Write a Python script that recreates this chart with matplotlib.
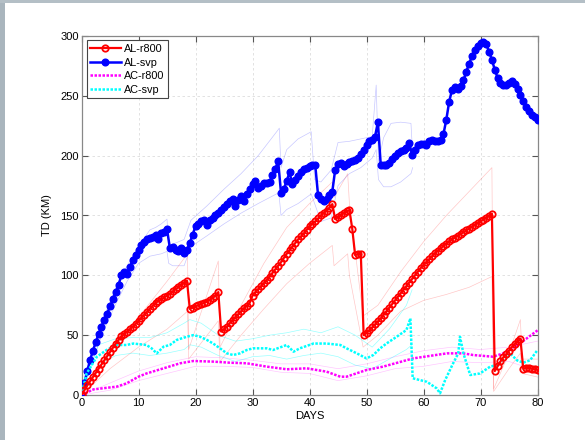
import matplotlib
matplotlib.use("Agg")
import matplotlib.pyplot as plt
from matplotlib.patches import Rectangle

# ---------------- data ----------------
days_half = [i * 0.5 for i in range(161)]

al_r800 = [0, 4, 8, 11.5, 15, 18.5, 22, 25.5, 29, 32.5,
           36, 39.5, 43, 46, 49, 51, 53, 55, 57, 59.5,
           62, 64.5, 67, 69.5, 72, 74.5, 77, 78.5, 80, 81.5,
           83, 84.5, 86.5, 88.5, 90, 92, 93.5, 95.5, 72, 73,
           74, 75, 76, 77, 78, 79.5, 81, 83, 86, 53,
           55, 57, 60, 62.5, 65, 67.5, 70, 72.5, 74.5, 77,
           83, 86, 88.5, 91, 93.5, 96, 99, 102, 105, 108,
           111, 114.5, 118, 121, 124, 127, 130, 132.5, 135, 138,
           141, 143, 145, 147.5, 150, 152, 154, 156.5, 159.5, 147,
           148.5, 150, 152, 153.5, 154.5, 139, 117, 117.5, 118, 50,
           52, 54, 56.5, 59, 61.5, 64, 67, 70, 73, 76,
           79, 82, 85, 88, 91, 94, 97, 100, 103, 106,
           108.5, 111, 113.5, 116, 118.5, 120.5, 122.5, 124.5, 126.5, 128.5,
           130, 131.5, 133, 134.5, 136, 137.5, 139, 140.5, 142, 143.5,
           145, 146.5, 148, 149.5, 151.5, 20, 24, 28, 31.5, 34,
           37, 40, 42.5, 45, 47, 22, 22.5, 22.5, 22, 21.5,
           21]

al_svp = [0, 10, 20, 29, 37, 44, 51, 57, 63, 68,
          74, 80, 86, 92, 100, 103, 101, 107, 113, 117,
          121, 125, 128, 130, 131, 132, 134, 130, 135, 136,
          138.5, 123, 124, 121, 120, 123, 119, 121, 127, 134,
          141, 143, 145, 146, 142, 146, 148, 150, 152, 155,
          157, 160, 162, 163.5, 158, 163, 166, 162, 168, 172,
          176, 179, 173, 175, 177, 177, 178, 184, 189, 195.5,
          169, 172, 179, 186, 176, 180, 183, 186, 189, 190,
          191, 192, 192.5, 167, 164, 162, 164, 167, 170, 188,
          193, 193.5, 191, 193, 195, 195.5, 196, 198, 201, 205,
          209, 212, 213, 216, 228, 192, 192, 192.5, 194, 197,
          200, 202.5, 204, 205, 206, 211, 200.5, 205, 209, 210,
          209.5, 209, 212, 213, 212, 212, 213, 218, 230, 245,
          255, 257, 256, 258, 263, 270, 277, 283, 288, 292,
          294.5, 295, 293, 287, 280, 272, 265, 261, 259, 259,
          261, 262, 260, 256, 251, 246, 241, 237, 234, 232,
          230]

ac_r800_x = [0, 2.1, 6.2, 7.9, 10, 11.4, 14.4, 17.3, 19.6, 23.1, 26, 29, 32.5, 36, 39.5, 43, 45.4, 46.5, 50, 52.9,
             58.2, 64.1, 67, 68.7, 72.2, 74, 76.9, 80]
ac_r800 = [0, 4.7, 7, 9.7, 15.3, 18, 22.3, 26.5, 28.4, 27.9, 27, 26.5, 23.7, 21.5, 22.3, 19.5, 15.3, 15.3, 20.9, 23.7,
           30.6, 34.8, 34.8, 33.4, 32, 34.8, 43, 54]

ac_svp_x = [0, 0.9, 2.7, 4.4, 6.2, 7.9, 9.1, 11.4, 12.3, 13.2, 14.4, 15.5, 16.7, 18.5, 19.6, 20.8, 22, 23.1, 24.3, 25.5,
            26.6, 27.8, 29, 30.1, 32.5, 33.6, 36, 37.2, 38.3, 40.7, 43, 45.4, 46.5, 48.3, 50, 51.2, 52.4, 53.5, 55.3, 57,
            57.7, 58.1, 60.6, 62.3, 62.9, 63.8, 65.2, 66.1, 66.4, 67, 68.2, 69.9, 71.7, 72.8, 74, 75.2, 76.4, 77.5, 78.7, 80]
ac_svp = [0, 18, 32, 37.6, 41.8, 41.8, 43, 41.8, 39, 34.8, 40.4, 41.8, 46, 48.7, 50, 48.7, 46, 43, 39, 34.8,
          33.4, 34.8, 37.6, 39, 39, 37.6, 41.8, 36.2, 39, 43, 43, 41.8, 39, 34.8, 30.6, 33.4, 39, 43, 48.7, 54.3,
          64, 14, 11, 5.6, 1.4, 12.5, 26.5, 34.8, 48.7, 34.8, 16.7, 18, 23.7, 25, 29, 34.8, 29, 27, 29, 37.6]

# thin spread lines (upper / lower)
al_svp_env_x = [0, 2, 4, 6, 8, 10, 12, 13, 14, 15, 15.3, 16, 18, 19.2, 22, 25, 28, 31, 34.4, 34.7,
                35, 36, 38, 40.3, 40.9, 42, 43.8, 45, 47, 49, 51, 51.7, 52.1, 53, 54.3, 56, 57.8, 58.1]
al_svp_up = [0, 38, 66, 90, 108, 124, 138, 140, 143, 147, 125, 126, 130, 146, 158, 172, 185, 200, 221, 223,
             190, 205, 214, 220, 180, 178, 188, 211, 212, 214, 216, 259, 195, 215, 227, 228, 227, 201]
al_svp_lo = [0, 30, 55, 76, 95, 110, 116, 117, 118, 120, 110, 108, 108, 124, 133, 143, 152, 160, 168.5, 165,
             150, 155, 160, 168, 160, 145, 148, 175, 185, 190, 198, 205, 180, 174, 174, 178, 185, 190]

al_r800_env_x = [0, 5, 10, 15, 18.6, 18.8, 24, 24.3, 28, 32, 36, 40, 44, 44.3, 46.7, 47, 49.4, 52, 56, 60,
                 64, 68, 72, 72.3, 75, 77, 77.3, 80]
al_r800_up = [0, 35, 65, 95, 118, 38, 112, 40, 75, 110, 140, 160, 178, 165, 185, 160, 66, 75, 103, 128,
              150, 170, 190, 5, 35, 63, 30, 30]
al_r800_lo = [0, 22, 40, 55, 70, 30, 62, 28, 50, 72, 93, 110, 125, 108, 118, 100, 40, 50, 70, 79,
              84, 90, 99, 3, 22, 35, 18, 15]

ac_r800_env_x = [0, 5, 10, 15, 20, 25, 30, 35, 40, 45, 50, 55, 60, 65, 70, 75, 80]
ac_r800_up = [0, 10, 20, 27, 32, 31, 29, 26, 26, 22, 26, 32, 37, 40, 38, 40, 45]
ac_r800_lo = [0, 4, 12, 18, 24, 24, 23, 19, 18, 12, 16, 22, 24, 28, 27, 28, 20]

ac_svp_env_x = [0, 3, 6, 9, 12, 15, 18, 19, 21, 24, 27, 30, 33, 36, 39, 42, 45, 48, 51, 54, 57, 58]
ac_svp_up = [0, 42, 47, 48, 48, 52, 60, 63, 60, 50, 45, 47, 50, 52, 55, 52, 57, 50, 40, 55, 75, 88]
ac_svp_lo = [0, 25, 33, 35, 33, 35, 38, 42, 40, 33, 28, 32, 33, 30, 33, 35, 32, 25, 22, 30, 38, 42]

xticks = [0, 10, 20, 30, 40, 50, 60, 70, 80]
yticks = [0, 50, 100, 150, 200, 250, 300]

# ---------------- figure ----------------
plt.rcParams['font.family'] = ['Liberation Sans', 'DejaVu Sans']
fig = plt.figure(figsize=(5.85, 4.4), dpi=100)
fig.patch.set_facecolor('white')
# textured backdrop strips (left & top)
fig.patches.append(Rectangle((0, 0), 5 / 585, 1, transform=fig.transFigure,
                             facecolor='#a9b5bd', edgecolor='none', zorder=0))
fig.patches.append(Rectangle((0, 1 - 3 / 440), 1, 3 / 440, transform=fig.transFigure,
                             facecolor='#b4bfc6', edgecolor='none', zorder=0))

ax = fig.add_axes([81.5 / 585, 1 - 395 / 440, 456 / 585, 359 / 440])

env_lw = 0.5
ax.plot(al_svp_env_x, al_svp_up, color='blue', lw=env_lw, alpha=0.22)
ax.plot(al_svp_env_x, al_svp_lo, color='blue', lw=env_lw, alpha=0.22)
ax.plot(al_r800_env_x, al_r800_up, color='red', lw=env_lw, alpha=0.22)
ax.plot(al_r800_env_x, al_r800_lo, color='red', lw=env_lw, alpha=0.22)
ax.plot(ac_r800_env_x, ac_r800_up, color='magenta', lw=env_lw, alpha=0.22)
ax.plot(ac_r800_env_x, ac_r800_lo, color='magenta', lw=env_lw, alpha=0.22)
ax.plot(ac_svp_env_x, ac_svp_up, color='cyan', lw=env_lw, alpha=0.4)
ax.plot(ac_svp_env_x, ac_svp_lo, color='cyan', lw=env_lw, alpha=0.4)

dot = (0, (1, 0.6))
ax.plot(days_half, al_r800, color='red', lw=1.6, marker='o', ms=4.6, mfc='none', mew=1.3,
        label='AL-r800', zorder=4)
ax.plot(days_half, al_svp, color='blue', lw=1.8, marker='o', ms=4.8, mfc='blue', mec='blue',
        label='AL-svp', zorder=3)
ax.plot(ac_r800_x, ac_r800, color='magenta', lw=1.8, linestyle=dot, label='AC-r800', zorder=3)
ax.plot(ac_svp_x, ac_svp, color='cyan', lw=1.8, linestyle=dot, label='AC-svp', zorder=3)

ax.set_xlim(0, 80)
ax.set_ylim(0, 300)
ax.set_xticks(xticks)
ax.set_yticks(yticks)
ax.tick_params(direction='in', length=4, width=0.8, color='#555555', labelsize=8,
               top=True, right=True, pad=2)
for s in ax.spines.values():
    s.set_color('#888888')
    s.set_linewidth(0.9)
ax.grid(True, color='#dddddd', linestyle=(0, (3, 3)), lw=0.6)
ax.set_axisbelow(True)
ax.set_xlabel('DAYS', fontsize=8, labelpad=2)
ax.set_ylabel('TD (KM)', fontsize=8, labelpad=6)

leg = ax.legend(loc='upper left', bbox_to_anchor=(5 / 456, 1 - 4.5 / 359), borderaxespad=0,
                fontsize=7.8, handlelength=2.8, handletextpad=0.3, labelspacing=0.32,
                borderpad=0.35, fancybox=False, framealpha=1, edgecolor='#444444')
leg.get_frame().set_linewidth(0.8)

fig.savefig('out.png', dpi=100, facecolor=fig.get_facecolor())
